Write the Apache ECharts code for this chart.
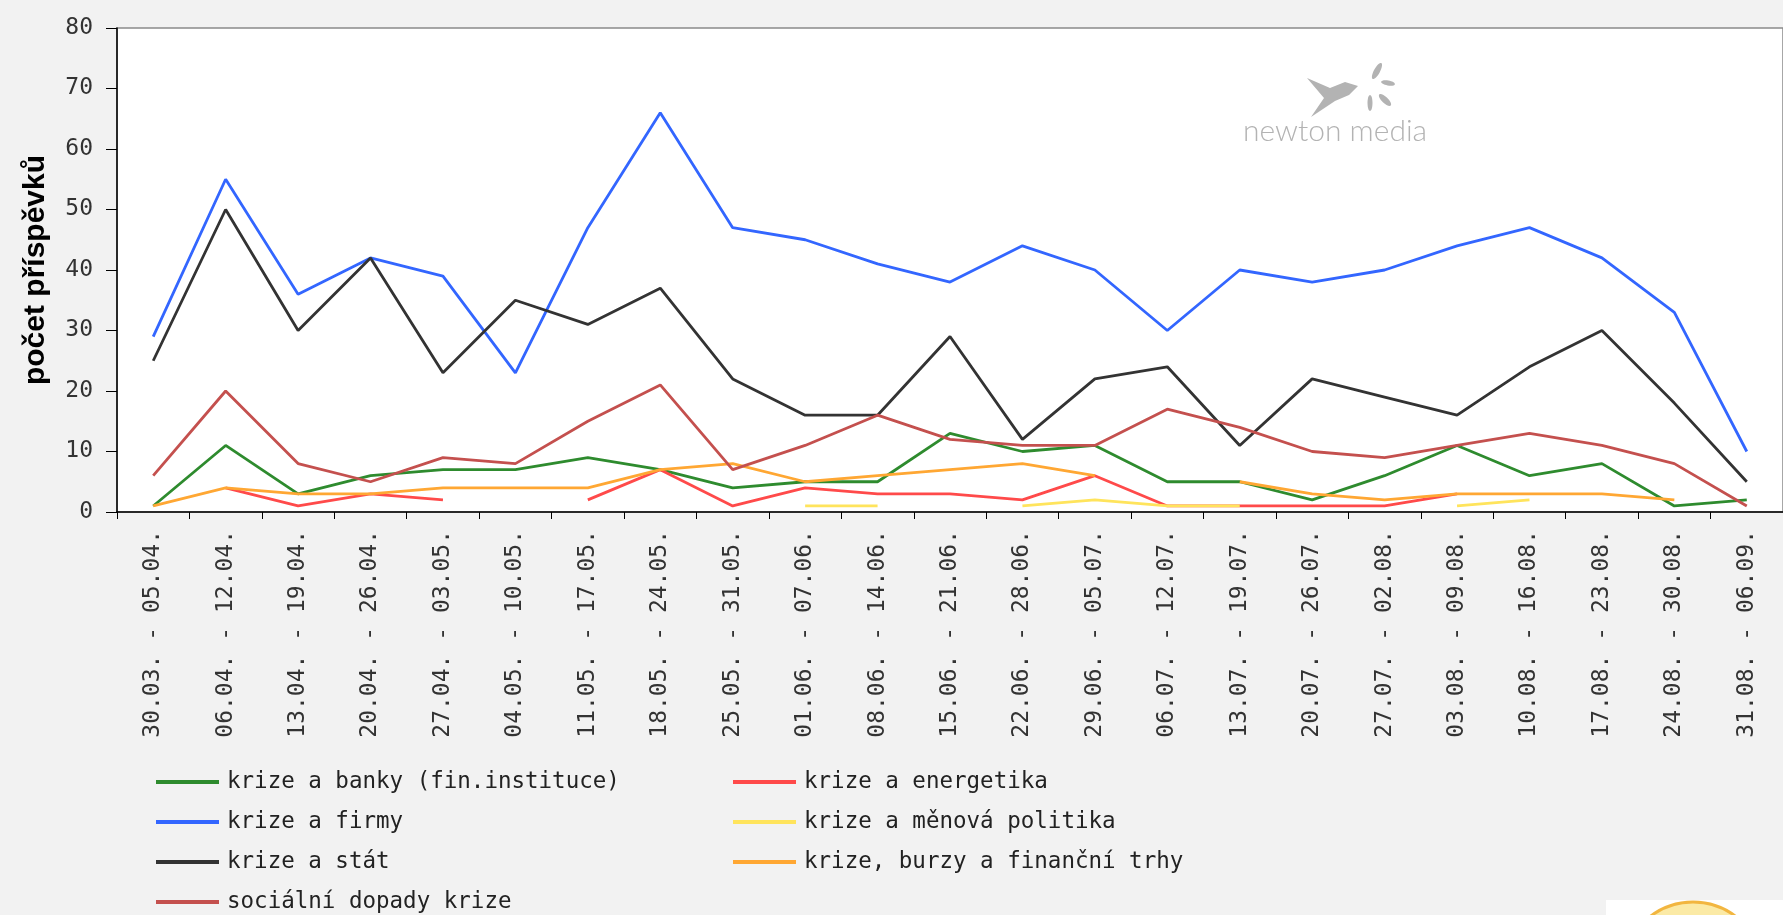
<!DOCTYPE html>
<html>
<head>
<meta charset="utf-8">
<script src="https://cdn.jsdelivr.net/npm/echarts@6/dist/echarts.min.js"></script>
<style>
  html, body { margin: 0; padding: 0; background: #f2f2f2; }
  #main { width: 1783px; height: 915px; }
</style>
</head>
<body>
<div id="main"></div>
<script>
// weeks (x axis)
var weeks = [
  '30.03. - 05.04.', '06.04. - 12.04.', '13.04. - 19.04.', '20.04. - 26.04.',
  '27.04. - 03.05.', '04.05. - 10.05.', '11.05. - 17.05.', '18.05. - 24.05.',
  '25.05. - 31.05.', '01.06. - 07.06.', '08.06. - 14.06.', '15.06. - 21.06.',
  '22.06. - 28.06.', '29.06. - 05.07.', '06.07. - 12.07.', '13.07. - 19.07.',
  '20.07. - 26.07.', '27.07. - 02.08.', '03.08. - 09.08.', '10.08. - 16.08.',
  '17.08. - 23.08.', '24.08. - 30.08.', '31.08. - 06.09.'
];

var banky      = [1, 11, 3, 6, 7, 7, 9, 7, 4, 5, 5, 13, 10, 11, 5, 5, 2, 6, 11, 6, 8, 1, 2];
var energetika = [null, 4, 1, 3, 2, null, 2, 7, 1, 4, 3, 3, 2, 6, 1, 1, 1, 1, 3, null, null, null, null];
var firmy      = [29, 55, 36, 42, 39, 23, 47, 66, 47, 45, 41, 38, 44, 40, 30, 40, 38, 40, 44, 47, 42, 33, 10];
var menova     = [null, null, null, null, null, null, null, null, null, 1, 1, null, 1, 2, 1, 1, null, null, 1, 2, null, null, null];
var stat       = [25, 50, 30, 42, 23, 35, 31, 37, 22, 16, 16, 29, 12, 22, 24, 11, 22, 19, 16, 24, 30, 18, 5];
var burzy      = [1, 4, 3, 3, 4, 4, 4, 7, 8, 5, 6, 7, 8, 6, null, 5, 3, 2, 3, 3, 3, 2, null];
var socialni   = [6, 20, 8, 5, 9, 8, 15, 21, 7, 11, 16, 12, 11, 11, 17, 14, 10, 9, 11, 13, 11, 8, 1];

var yTicks = [0, 10, 20, 30, 40, 50, 60, 70, 80];

var names = [
  'krize a banky (fin.instituce)', 'krize a energetika', 'krize a firmy',
  'krize a měnová politika', 'krize a stát', 'krize, burzy a finanční trhy',
  'sociální dopady krize'
];
var colors = ['#2e8b2e', '#ff4a4a', '#3366ff', '#ffe45c', '#333333', '#ffa733', '#c4504e'];
var values = [banky, energetika, firmy, menova, stat, burzy, socialni];

var mono = 'DejaVu Sans Mono';

var chart = echarts.init(document.getElementById('main'));

var legendBase = {
  orient: 'vertical',
  padding: 0,
  icon: 'rect',
  itemWidth: 63,
  itemHeight: 4,
  itemGap: 14,
  textStyle: { fontFamily: mono, fontSize: 22.5, color: '#222', lineHeight: 26, padding: [0, 0, 0, 3] }
};

chart.setOption({
  backgroundColor: '#f2f2f2',
  animation: false,
  color: colors,
  grid: {
    left: 117, top: 28, right: -2, bottom: 403,
    show: true, backgroundColor: '#ffffff', borderColor: '#8a8a8a', borderWidth: 1.5
  },
  legend: [
    Object.assign({}, legendBase, { left: 156, top: 769, data: [names[0], names[2], names[4]] }),
    Object.assign({}, legendBase, { left: 156, top: 889, data: [names[6]] }),
    Object.assign({}, legendBase, { left: 733, top: 769, data: [names[1], names[3], names[5]] })
  ],
  xAxis: {
    type: 'category',
    data: weeks,
    boundaryGap: true,
    axisLine: { lineStyle: { color: '#000', width: 1.5 } },
    axisTick: { show: true, length: 7, lineStyle: { color: '#000' } },
    axisLabel: {
      rotate: 90, margin: 18, interval: 0,
      fontFamily: mono, fontSize: 23, color: '#333'
    },
    splitLine: { show: false }
  },
  yAxis: {
    type: 'value',
    min: yTicks[0], max: yTicks[yTicks.length - 1], interval: 10,
    name: 'počet příspěvků',
    nameLocation: 'middle',
    nameGap: 66,
    nameTextStyle: { fontFamily: 'Liberation Sans', fontWeight: 'bold', fontSize: 30, color: '#000' },
    axisLine: { show: true, lineStyle: { color: '#000', width: 1.5 } },
    axisTick: { show: true, length: 11, lineStyle: { color: '#000' } },
    axisLabel: { margin: 24, fontFamily: mono, fontSize: 23, color: '#333' },
    splitLine: { show: false }
  },
  graphic: [
    {
      type: 'text', left: 1243, top: 116, silent: true,
      style: { text: 'newton media', fontFamily: 'Lato', fontWeight: 300, fontSize: 30, fill: '#b3b3b3' }
    },
    {
      type: 'polygon', silent: true,
      shape: { points: [[1307, 78], [1330, 88], [1345, 82], [1358, 86], [1349, 95], [1335, 101], [1311, 117], [1324, 98]] },
      style: { fill: '#b3b3b3' }
    },
    { type: 'ellipse', silent: true, shape: { cx: 1377, cy: 71, rx: 3, ry: 9 }, rotation: -0.5, originX: 1377, originY: 71, style: { fill: '#b3b3b3' } },
    { type: 'ellipse', silent: true, shape: { cx: 1385, cy: 100, rx: 3, ry: 8 }, rotation: 0.8, originX: 1385, originY: 100, style: { fill: '#b3b3b3' } },
    { type: 'ellipse', silent: true, shape: { cx: 1370, cy: 103, rx: 2.5, ry: 8 }, style: { fill: '#b3b3b3' } },
    { type: 'ellipse', silent: true, shape: { cx: 1388, cy: 83, rx: 2.5, ry: 7 }, rotation: 1.4, originX: 1388, originY: 83, style: { fill: '#b3b3b3' } },
    { type: 'rect', silent: true, shape: { x: 1606, y: 900, width: 177, height: 15 }, style: { fill: '#ffffff' } },
    { type: 'circle', silent: true, shape: { cx: 1693, cy: 972, r: 70 }, style: { fill: '#fbeaa6', stroke: '#f2b640', lineWidth: 3 } }
  ],
  series: names.map(function (n, i) {
    return {
      name: n,
      type: 'line',
      data: values[i],
      symbol: 'none',
      connectNulls: false,
      lineStyle: { width: 2.8, color: colors[i] },
      itemStyle: { color: colors[i] }
    };
  })
});
</script>
</body>
</html>
